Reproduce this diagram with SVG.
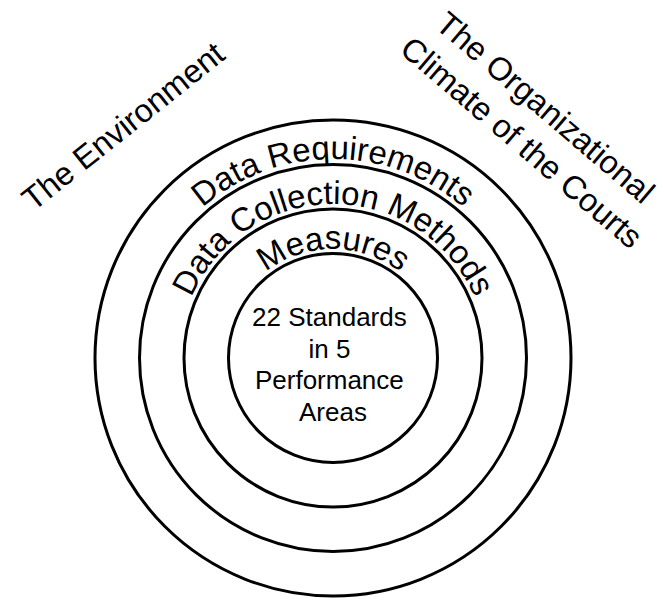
<svg xmlns="http://www.w3.org/2000/svg" width="666" height="600" viewBox="0 0 666 600">
  <style>
    .ring { fill: none; stroke: #000; stroke-width: 3; }
    .lbl { font-family: "Liberation Sans", Arial, sans-serif; fill: #000; }
    .arc { font-size: 33px; }
    .outer { font-size: 32.5px; }
    .core { font-size: 26px; }
  </style>
  <defs>
    <!-- label baselines: upper half-circles around the common centre (333,358) -->
    <path id="arcReq" d="M 134,358 A 199 199 0 0 1 532,358"/>
    <path id="arcColl" d="M 179,358 A 154 154 0 0 1 487,358"/>
    <path id="arcMeas" d="M 224,358 A 109 109 0 0 1 442,358"/>
  </defs>

  <g id="ring-requirements">
    <circle class="ring" cx="333" cy="358" r="238"/>
    <text class="lbl arc" text-anchor="middle"><textPath href="#arcReq" startOffset="50%">Data Requirements</textPath></text>
  </g>
  <g id="ring-collection">
    <circle class="ring" cx="333" cy="358" r="193.5"/>
    <text class="lbl arc" text-anchor="middle"><textPath href="#arcColl" startOffset="50%">Data Collection Methods</textPath></text>
  </g>
  <g id="ring-measures">
    <circle class="ring" cx="333" cy="358" r="149"/>
    <text class="lbl arc" text-anchor="middle"><textPath href="#arcMeas" startOffset="50%">Measures</textPath></text>
  </g>
  <g id="core-standards">
    <circle class="ring" cx="333" cy="358" r="104.5"/>
    <text class="lbl core" text-anchor="middle" x="333">
      <tspan x="333" y="326">22 Standards</tspan>
      <tspan x="333" y="358">in 5</tspan>
      <tspan x="333" y="389">Performance</tspan>
      <tspan x="333" y="421">Areas</tspan>
    </text>
  </g>

  <g id="environment">
    <text class="lbl outer" text-anchor="middle" transform="translate(130,135) rotate(-38.5)">The Environment</text>
  </g>
  <g id="organizational-climate">
    <text class="lbl outer" text-anchor="middle" transform="translate(528,135) rotate(40.5)">
      <tspan x="0" y="-21">The Organizational</tspan>
      <tspan x="0" y="21">Climate of the Courts</tspan>
    </text>
  </g>

  <g id="connectors"/>
</svg>
